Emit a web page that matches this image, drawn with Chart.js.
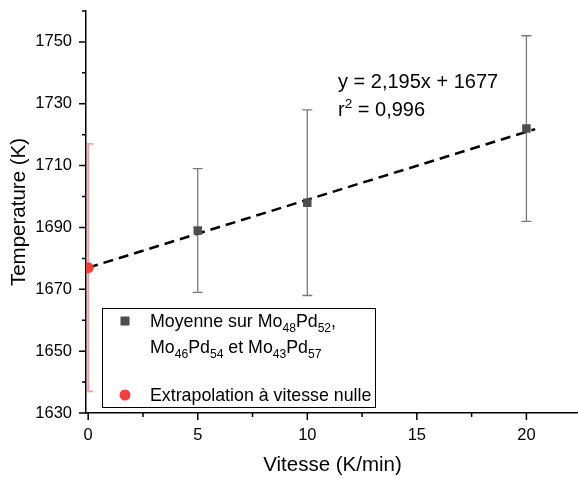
<!DOCTYPE html>
<html>
<head>
<meta charset="utf-8">
<script src="https://cdn.jsdelivr.net/npm/chart.js@4.4.0/dist/chart.umd.min.js"></script>
<style>
  html, body { margin: 0; padding: 0; background: #fff; overflow: hidden; width: 578px; height: 479px; }
  canvas { display: block; }
</style>
</head>
<body>
<canvas id="c" width="585" height="479"></canvas>
<script>
const rates = [5, 10, 20];
const tempMean = [1689, 1698, 1722];
const tempErr = [20, 30, 30];
const extrapRate = [0];
const extrapTemp = [1677];
const extrapErr = [40];
const fitRate = [0, 20.4];
const fitTemp = [1677, 1721.8];
const xTicks = [0, 5, 10, 15, 20];
const xMinor = [2.5, 7.5, 12.5, 17.5];
const yTicks = [1630, 1650, 1670, 1690, 1710, 1730, 1750];
const yMinor = [1640, 1660, 1680, 1700, 1720, 1740, 1760];

const FONT = 'Liberation Sans, Arial, sans-serif';

// texte avec indices / exposants
function drawRich(ctx, parts, x, y, size) {
  let cx = x;
  parts.forEach(([txt, mode]) => {
    let fs = size, dy = 0;
    if (mode === 'sub') { fs = size * 0.68; dy = size * 0.28; }
    if (mode === 'sup') { fs = size * 0.68; dy = -size * 0.42; }
    ctx.font = fs + 'px ' + FONT;
    ctx.fillText(txt, cx, y + dy);
    cx += ctx.measureText(txt).width;
  });
}

const errorBars = {
  id: 'errorBars',
  beforeDatasetsDraw(chart) {
    const { ctx, chartArea, scales: { x, y } } = chart;
    ctx.save();
    ctx.beginPath();
    ctx.rect(chartArea.left, chartArea.top, chartArea.right - chartArea.left, chartArea.bottom - chartArea.top);
    ctx.clip();
    const bar = (xv, lo, hi, color, w, cap) => {
      const px = x.getPixelForValue(xv);
      const p1 = y.getPixelForValue(lo);
      const p2 = y.getPixelForValue(hi);
      ctx.strokeStyle = color;
      ctx.lineWidth = w;
      ctx.beginPath();
      ctx.moveTo(px, p1); ctx.lineTo(px, p2);
      ctx.moveTo(px - cap, p1); ctx.lineTo(px + cap, p1);
      ctx.moveTo(px - cap, p2); ctx.lineTo(px + cap, p2);
      ctx.stroke();
    };
    rates.forEach((r, i) => bar(r, tempMean[i] - tempErr[i], tempMean[i] + tempErr[i], '#7a7a7a', 1.3, 5));
    extrapRate.forEach((r, i) => bar(r, extrapTemp[i] - extrapErr[i], extrapTemp[i] + extrapErr[i], 'rgba(240,90,90,0.6)', 1.8, 5));
    ctx.restore();
  }
};

const decorations = {
  id: 'decorations',
  afterDraw(chart) {
    const { ctx, chartArea, scales: { x, y } } = chart;
    ctx.save();
    ctx.strokeStyle = '#000';
    ctx.lineWidth = 1.5;
    ctx.beginPath();
    xTicks.forEach(v => { const p = x.getPixelForValue(v); ctx.moveTo(p, chartArea.bottom); ctx.lineTo(p, chartArea.bottom + 7); });
    xMinor.forEach(v => { const p = x.getPixelForValue(v); ctx.moveTo(p, chartArea.bottom); ctx.lineTo(p, chartArea.bottom + 4); });
    yTicks.forEach(v => { const p = y.getPixelForValue(v); ctx.moveTo(chartArea.left, p); ctx.lineTo(chartArea.left - 7, p); });
    yMinor.forEach(v => { const p = y.getPixelForValue(v); ctx.moveTo(chartArea.left, p); ctx.lineTo(chartArea.left - 4, p); });
    ctx.stroke();

    // équation de la régression
    ctx.fillStyle = '#000';
    ctx.textBaseline = 'alphabetic';
    ctx.textAlign = 'left';
    drawRich(ctx, [['y = 2,195x + 1677', 'n']], 338, 88, 20);
    drawRich(ctx, [['r', 'n'], ['2', 'sup'], [' = 0,996', 'n']], 338, 116, 20);

    // légende
    ctx.fillStyle = '#fff';
    ctx.fillRect(102, 308, 273, 99);
    ctx.strokeStyle = '#000';
    ctx.lineWidth = 1;
    ctx.strokeRect(102.5, 308.5, 273, 99);
    ctx.fillStyle = '#4d4d4d';
    ctx.fillRect(120.5, 316.5, 9, 9);
    ctx.fillStyle = '#ef3e3e';
    ctx.beginPath();
    ctx.arc(125, 395, 5.5, 0, Math.PI * 2);
    ctx.fill();
    ctx.fillStyle = '#000';
    drawRich(ctx, [['Moyenne sur Mo', 'n'], ['48', 'sub'], ['Pd', 'n'], ['52', 'sub'], [',', 'n']], 150, 327, 17.8);
    drawRich(ctx, [['Mo', 'n'], ['46', 'sub'], ['Pd', 'n'], ['54', 'sub'], [' et Mo', 'n'], ['43', 'sub'], ['Pd', 'n'], ['57', 'sub']], 150, 353, 17.8);
    drawRich(ctx, [['Extrapolation à vitesse nulle', 'n']], 150, 401, 17.8);
    ctx.restore();
  }
};

new Chart(document.getElementById('c'), {
  type: 'scatter',
  data: {
    datasets: [
      {
        label: 'Régression',
        data: fitRate.map((r, i) => ({ x: r, y: fitTemp[i] })),
        showLine: true,
        borderColor: '#000',
        borderWidth: 2.5,
        borderDash: [10, 6],
        pointRadius: 0,
        order: 3
      },
      {
        label: 'Moyenne',
        data: rates.map((r, i) => ({ x: r, y: tempMean[i] })),
        pointStyle: 'rect',
        pointRadius: 6,
        backgroundColor: '#4d4d4d',
        borderColor: '#4d4d4d',
        borderWidth: 0,
        order: 1
      },
      {
        label: 'Extrapolation',
        data: extrapRate.map((r, i) => ({ x: r, y: extrapTemp[i] })),
        pointStyle: 'circle',
        pointRadius: 5.5,
        backgroundColor: '#ef3e3e',
        borderColor: '#ef3e3e',
        borderWidth: 0,
        order: 2
      }
    ]
  },
  options: {
    responsive: false,
    animation: false,
    devicePixelRatio: 1,
    layout: { padding: { top: 11, left: 0, right: 0, bottom: 0 } },
    plugins: { legend: { display: false }, tooltip: { enabled: false } },
    scales: {
      x: {
        type: 'linear',
        min: -0.1,
        max: 22.4,
        afterBuildTicks: s => { s.ticks = xTicks.map(v => ({ value: v })); },
        afterFit: s => { s.height = 66; s.paddingLeft = 0; s.paddingRight = 0; },
        grid: { display: false, drawTicks: false },
        border: { display: true, color: '#000', width: 1.5 },
        ticks: { padding: 13, color: '#000', font: { family: FONT, size: 16.5 }, maxRotation: 0, callback: v => v },
        title: { display: true, text: 'Vitesse (K/min)', color: '#000', font: { family: FONT, size: 20.5 }, padding: { top: 0, bottom: 1 } }
      },
      y: {
        type: 'linear',
        min: 1630,
        max: 1760,
        afterBuildTicks: s => { s.ticks = yTicks.map(v => ({ value: v })); },
        afterFit: s => { s.width = 86; s.paddingTop = 0; s.paddingBottom = 0; },
        grid: { display: false, drawTicks: false },
        border: { display: true, color: '#000', width: 1.5 },
        ticks: { padding: 14, color: '#000', font: { family: FONT, size: 16.5 }, callback: v => v },
        title: { display: true, text: 'Temperature (K)', color: '#000', font: { family: FONT, size: 20.5 }, padding: { top: 7, bottom: 0 } }
      }
    }
  },
  plugins: [errorBars, decorations]
});
</script>
</body>
</html>
